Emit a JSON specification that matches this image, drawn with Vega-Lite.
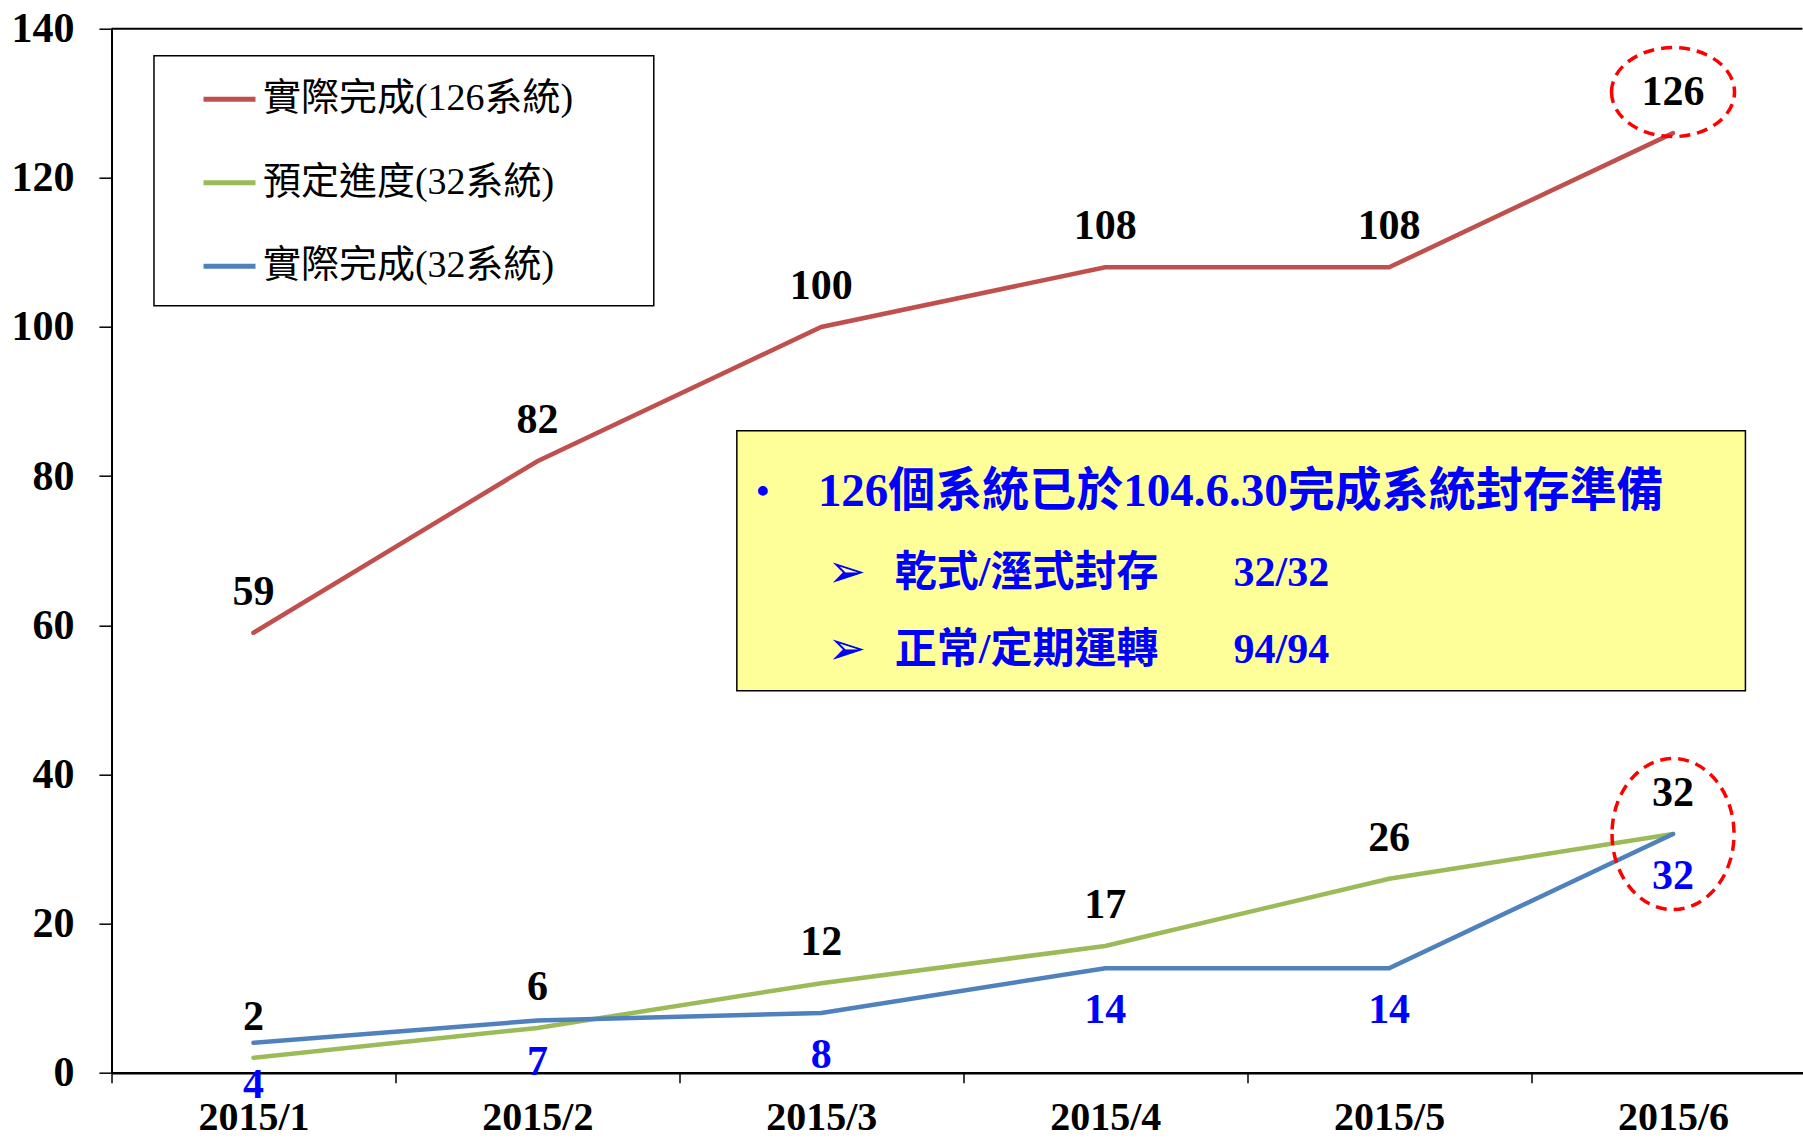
{
  "$schema": "https://vega.github.io/schema/vega-lite/v6.json",
  "width": 1691,
  "height": 1044,
  "autosize": {"type": "none"},
  "padding": {"left": 111.5, "top": 28.7, "right": 0, "bottom": 70},
  "background": "white",
  "config": {"view": {"stroke": null}, "font": "Liberation Serif"},
  "datasets": {
    "series": [
      {"month": 1, "series": "實際完成(126系統)", "value": 59},
      {"month": 2, "series": "實際完成(126系統)", "value": 82},
      {"month": 3, "series": "實際完成(126系統)", "value": 100},
      {"month": 4, "series": "實際完成(126系統)", "value": 108},
      {"month": 5, "series": "實際完成(126系統)", "value": 108},
      {"month": 6, "series": "實際完成(126系統)", "value": 126},
      {"month": 1, "series": "預定進度(32系統)", "value": 2},
      {"month": 2, "series": "預定進度(32系統)", "value": 6},
      {"month": 3, "series": "預定進度(32系統)", "value": 12},
      {"month": 4, "series": "預定進度(32系統)", "value": 17},
      {"month": 5, "series": "預定進度(32系統)", "value": 26},
      {"month": 6, "series": "預定進度(32系統)", "value": 32},
      {"month": 1, "series": "實際完成(32系統)", "value": 4},
      {"month": 2, "series": "實際完成(32系統)", "value": 7},
      {"month": 3, "series": "實際完成(32系統)", "value": 8},
      {"month": 4, "series": "實際完成(32系統)", "value": 14},
      {"month": 5, "series": "實際完成(32系統)", "value": 14},
      {"month": 6, "series": "實際完成(32系統)", "value": 32}
    ],
    "frameTop": [{"y": 140}],
    "legendFrame": [{"x1": 0.6496, "x2": 2.41, "y1": 136.38, "y2": 102.85}],
    "noteBox": [{"x1": 2.7025, "x2": 6.255, "y1": 86.09, "y2": 51.23}],
    "noteBullet": [{"x": 2.794, "y": 77.9, "text": "•"}],
    "noteHead": [{"x": 2.988, "y": 77.9, "text": "126個系統已於104.6.30完成系統封存準備"}],
    "noteArrows": [{"x": 3.09, "y": 67.05, "text": "➢"}, {"x": 3.09, "y": 56.72, "text": "➢"}],
    "noteItems": [
      {"x": 3.259, "y": 67.05, "text": "乾式/溼式封存"},
      {"x": 4.452, "y": 67.05, "text": "32/32"},
      {"x": 3.259, "y": 56.72, "text": "正常/定期運轉"},
      {"x": 4.452, "y": 56.72, "text": "94/94"}
    ],
    "ringTop": [{"month": 6, "value": 131.5}],
    "ringBottom": [{"month": 6, "value": 32}]
  },
  "layer": [
    {
      "data": {"name": "frameTop"},
      "mark": {"type": "rule", "color": "black", "strokeWidth": 2},
      "encoding": {"y": {"field": "y", "type": "quantitative", "title": null, "scale": {"domain": [0, 140], "nice": false}}}
    },
    {
      "data": {"name": "legendFrame"},
      "mark": {"type": "rect", "fill": "white", "stroke": "black", "strokeWidth": 1.5},
      "encoding": {
        "x": {"field": "x1", "type": "quantitative", "title": null, "scale": {"domain": [0.5, 6.456], "nice": false, "zero": false}},
        "x2": {"field": "x2"},
        "y": {"field": "y1", "type": "quantitative", "title": null, "scale": {"domain": [0, 140], "nice": false}},
        "y2": {"field": "y2"}
      }
    },
    {
      "data": {"name": "series"},
      "mark": {"type": "line", "strokeWidth": 4.5, "strokeCap": "round"},
      "encoding": {
        "x": {
          "field": "month", "type": "quantitative", "title": null,
          "scale": {"domain": [0.5, 6.456], "nice": false, "zero": false},
          "axis": {
            "values": [1, 2, 3, 4, 5, 6],
            "labelExpr": "'2015/' + datum.value",
            "tickOffset": -142,
            "labelOffset": 142,
            "domainColor": "black", "domainWidth": 2.5,
            "tickColor": "black", "tickWidth": 1.5, "tickSize": 10,
            "labelFont": "Liberation Serif", "labelFontSize": 40, "labelFontWeight": "bold", "labelColor": "black",
            "labelPadding": 15, "labelOverlap": false, "labelFlush": false, "labelBound": false,
            "grid": false
          }
        },
        "y": {
          "field": "value", "type": "quantitative", "title": null,
          "scale": {"domain": [0, 140], "nice": false},
          "axis": {
            "values": [0, 20, 40, 60, 80, 100, 120, 140],
            "domainColor": "black", "domainWidth": 2,
            "tickColor": "black", "tickWidth": 1.5, "tickSize": 12.6,
            "labelFont": "Liberation Serif", "labelFontSize": 42, "labelFontWeight": "bold", "labelColor": "black",
            "labelPadding": 25, "labelOverlap": false, "labelFlush": false, "labelBound": false,
            "grid": false
          }
        },
        "color": {
          "field": "series", "type": "nominal",
          "scale": {"domain": ["實際完成(126系統)", "預定進度(32系統)", "實際完成(32系統)"], "range": ["#C0504D", "#9BBB59", "#4F81BD"]},
          "legend": {
            "orient": "none", "legendX": 89.5, "legendY": 42,
            "title": null, "padding": 0,
            "symbolType": "stroke", "symbolSize": 2704, "symbolStrokeWidth": 5,
            "labelFont": "'Liberation Serif', 'Noto Sans CJK TC'", "labelFontSize": 38, "labelColor": "black",
            "labelOffset": 5, "rowPadding": 35.5, "labelLimit": 600
          }
        }
      }
    },
    {
      "data": {"name": "series"},
      "transform": [{"filter": "datum.series !== '實際完成(32系統)'"}],
      "mark": {"type": "text", "dy": -41, "fontSize": 42, "fontWeight": "bold", "font": "Liberation Serif", "color": "black", "baseline": "middle", "align": "center"},
      "encoding": {
        "x": {"field": "month", "type": "quantitative", "title": null, "scale": {"domain": [0.5, 6.456], "nice": false, "zero": false}},
        "y": {"field": "value", "type": "quantitative", "title": null, "scale": {"domain": [0, 140], "nice": false}},
        "text": {"field": "value", "type": "quantitative"}
      }
    },
    {
      "data": {"name": "series"},
      "transform": [{"filter": "datum.series === '實際完成(32系統)'"}],
      "mark": {"type": "text", "dy": 42, "fontSize": 42, "fontWeight": "bold", "font": "Liberation Serif", "color": "#0000FF", "baseline": "middle", "align": "center"},
      "encoding": {
        "x": {"field": "month", "type": "quantitative", "title": null, "scale": {"domain": [0.5, 6.456], "nice": false, "zero": false}},
        "y": {"field": "value", "type": "quantitative", "title": null, "scale": {"domain": [0, 140], "nice": false}},
        "text": {"field": "value", "type": "quantitative"}
      }
    },
    {
      "data": {"name": "noteBox"},
      "mark": {"type": "rect", "fill": "#FFFF99", "stroke": "black", "strokeWidth": 1.5},
      "encoding": {
        "x": {"field": "x1", "type": "quantitative", "title": null, "scale": {"domain": [0.5, 6.456], "nice": false, "zero": false}},
        "x2": {"field": "x2"},
        "y": {"field": "y1", "type": "quantitative", "title": null, "scale": {"domain": [0, 140], "nice": false}},
        "y2": {"field": "y2"}
      }
    },
    {
      "data": {"name": "noteBullet"},
      "mark": {"type": "text", "fontSize": 36, "font": "Liberation Serif", "fontWeight": "bold", "color": "#0000FF", "align": "center", "baseline": "middle"},
      "encoding": {
        "x": {"field": "x", "type": "quantitative", "title": null, "scale": {"domain": [0.5, 6.456], "nice": false, "zero": false}},
        "y": {"field": "y", "type": "quantitative", "title": null, "scale": {"domain": [0, 140], "nice": false}},
        "text": {"field": "text"}
      }
    },
    {
      "data": {"name": "noteHead"},
      "mark": {"type": "text", "fontSize": 47, "font": "'Liberation Serif', 'Noto Sans CJK TC'", "fontWeight": "bold", "color": "#0000FF", "align": "left", "baseline": "middle"},
      "encoding": {
        "x": {"field": "x", "type": "quantitative", "title": null, "scale": {"domain": [0.5, 6.456], "nice": false, "zero": false}},
        "y": {"field": "y", "type": "quantitative", "title": null, "scale": {"domain": [0, 140], "nice": false}},
        "text": {"field": "text"}
      }
    },
    {
      "data": {"name": "noteArrows"},
      "mark": {"type": "text", "fontSize": 46, "font": "DejaVu Sans", "color": "#0000FF", "align": "center", "baseline": "middle"},
      "encoding": {
        "x": {"field": "x", "type": "quantitative", "title": null, "scale": {"domain": [0.5, 6.456], "nice": false, "zero": false}},
        "y": {"field": "y", "type": "quantitative", "title": null, "scale": {"domain": [0, 140], "nice": false}},
        "text": {"field": "text"}
      }
    },
    {
      "data": {"name": "noteItems"},
      "mark": {"type": "text", "fontSize": 42, "font": "'Liberation Serif', 'Noto Sans CJK TC'", "fontWeight": "bold", "color": "#0000FF", "align": "left", "baseline": "middle"},
      "encoding": {
        "x": {"field": "x", "type": "quantitative", "title": null, "scale": {"domain": [0.5, 6.456], "nice": false, "zero": false}},
        "y": {"field": "y", "type": "quantitative", "title": null, "scale": {"domain": [0, 140], "nice": false}},
        "text": {"field": "text"}
      }
    },
    {
      "data": {"name": "ringTop"},
      "mark": {"type": "point", "shape": "M-1,0A1,0.724,0,1,0,1,0A1,0.724,0,1,0,-1,0Z", "size": 15129, "filled": false, "stroke": "#FF0000", "strokeWidth": 3.5, "strokeDash": [11, 7], "opacity": 1},
      "encoding": {
        "x": {"field": "month", "type": "quantitative", "title": null, "scale": {"domain": [0.5, 6.456], "nice": false, "zero": false}},
        "y": {"field": "value", "type": "quantitative", "title": null, "scale": {"domain": [0, 140], "nice": false}}
      }
    },
    {
      "data": {"name": "ringBottom"},
      "mark": {"type": "point", "shape": "M-0.808,0A0.808,1,0,1,0,0.808,0A0.808,1,0,1,0,-0.808,0Z", "size": 22801, "filled": false, "stroke": "#FF0000", "strokeWidth": 3.5, "strokeDash": [11, 7], "opacity": 1},
      "encoding": {
        "x": {"field": "month", "type": "quantitative", "title": null, "scale": {"domain": [0.5, 6.456], "nice": false, "zero": false}},
        "y": {"field": "value", "type": "quantitative", "title": null, "scale": {"domain": [0, 140], "nice": false}}
      }
    }
  ]
}
